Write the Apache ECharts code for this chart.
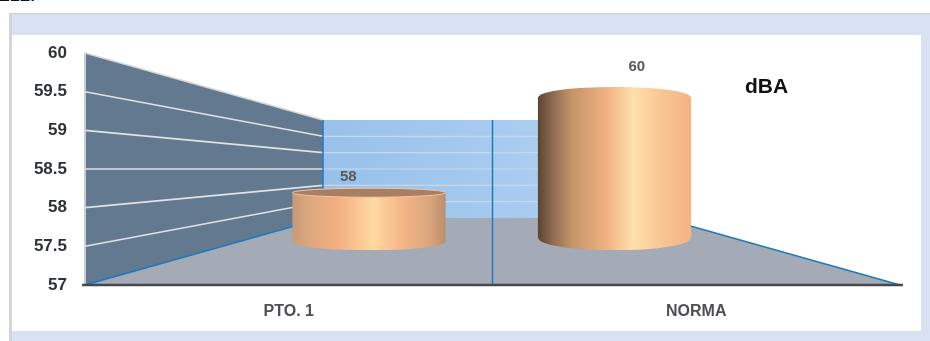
<!DOCTYPE html>
<html><head><meta charset="utf-8">
<style>html,body{margin:0;padding:0;background:#fff}#c{width:930px;height:341px;filter:blur(0.5px)}</style>
<script src="https://cdn.jsdelivr.net/npm/echarts@6/dist/echarts.min.js"></script>
</head><body><div id="c"></div>
<script>
const categories = ['PTO. 1', 'NORMA'];
const dba = [58, 60];
const axisMin = 57, axisMax = 60, axisStep = 0.5;
const gridTicks = [57.5, 58, 58.5, 59, 59.5, 60];

// Perspective of the box: share of the front plane kept by the back wall
const BACK_X = 0.416, BACK_Y = 0.4224, BACK_LIFT = 67, BAR_T = 0.67, LABEL_T = 0.5, BAR_HALF = 0.188;
const shapes = [
  {topRy: 4.5, baseRy: 9, baseDy: 1, dx: 0.5,
   stops: [[0,'#c49a78'],[0.1,'#dca77e'],[0.3,'#f3b081'],[0.53,'#ffd8a2'],[0.72,'#f4b686'],[0.9,'#d9a47c'],[1,'#b98e6e']],
   cap: '#a87f62', rim: '#f2c6a0'},
  {topRy: 11, baseRy: 13, baseDy: -3, dx: -2,
   stops: [[0,'#5c4432'],[0.1,'#8f6c50'],[0.22,'#c49469'],[0.45,'#f0b182'],[0.62,'#ffe0ad'],[0.8,'#f8c795'],[1,'#f4b384']],
   cap: null, rim: null}
];

const chart = echarts.init(document.getElementById('c'), null, {renderer: 'canvas'});
let frontL, frontR, top60, bot57;

function frame(api) {
  const c0 = api.coord([0, axisMin]), c1 = api.coord([1, axisMax]);
  const band = c1[0] - c0[0];
  frontL = c0[0] - band / 2; frontR = c1[0] + band / 2;
  bot57 = c0[1]; top60 = c1[1];
  return band;
}
// front-plane point -> point at depth t (0 front, 1 back wall)
function deep(p, t) {
  const mid = (frontL + frontR) / 2;
  const bx = mid + (p[0] - mid) * BACK_X;
  const by = bot57 - (bot57 - p[1]) * BACK_Y - BACK_LIFT;
  return [p[0] + (bx - p[0]) * t, p[1] + (by - p[1]) * t];
}
function line(a, b, color, width) {
  return {type: 'line', shape: {x1: a[0], y1: a[1], x2: b[0], y2: b[1]},
          style: {stroke: color, lineWidth: width}};
}
function box(params, api) {
  frame(api);
  const fl = [frontL, bot57], fr = [frontR, bot57], tl = [frontL, top60];
  const bl = deep(fl, 1), br = deep(fr, 1), btl = deep(tl, 1), btr = deep([frontR, top60], 1);
  const midF = [(frontL + frontR) / 2, bot57], midT = deep([midF[0], top60], 1);
  const kids = [
    {type: 'polygon', shape: {points: [bl, br, btr, btl]}, style: {fill: new echarts.graphic.LinearGradient(0,1,1,0,[{offset:0,color:'#97bfe8'},{offset:1,color:'#b4d6f4'}])}},
    {type: 'polygon', shape: {points: [fl, fr, br, bl]}, style: {fill: '#a4abb7'}},
    {type: 'polygon', shape: {points: [fl, tl, btl, bl]}, style: {fill: '#63798f'}},
    line(tl, btl, '#d8d8d8', 1.5), line(tl, fl, '#c8cdd2', 2)
  ];
  gridTicks.forEach(v => {
    if (v === axisMax) return;
    const y = api.coord([0, v])[1], f = [frontL, y], b = deep(f, 1), e = deep([frontR, y], 1);
    kids.push(line(f, b, '#dfe2e4', 1.6), line(b, e, '#c3d9ee', 1.2));
  });
  kids.push(line(fl, bl, '#1f78bd', 1.5), line(bl, btl, '#1f78bd', 1.5),
            line(fr, br, '#1f78bd', 1.5), line(midF, midT, '#1f78bd', 1.5),
            line([frontL - 3, bot57], [frontR + 3, bot57], '#45484d', 2.5));
  return {type: 'group', children: kids};
}
function cylinder(params, api) {
  const band = frame(api);
  const i = api.value(0), v = api.value(1), s = shapes[i];
  const cf = api.coord([i, v]), bf = api.coord([i, axisMin]);
  const top = deep(cf, BAR_T), base = deep(bf, BAR_T);
  const cx = top[0] + s.dx, hx = band * BAR_HALF;
  const L = cx - hx, R = cx + hx;
  const by = base[1] + s.baseDy, ty = top[1];
  const fill = new echarts.graphic.LinearGradient(0,0,1,0, s.stops.map(o => ({offset:o[0], color:o[1]})));
  const up = s.topRy * 1.33, dn = s.baseRy * 1.33;
  const d = `M${L} ${ty} C${L} ${ty-up} ${R} ${ty-up} ${R} ${ty} L${R} ${by} C${R} ${by+dn} ${L} ${by+dn} ${L} ${by} Z`;
  const kids = [{type: 'path', shape: {pathData: d, x: L, y: ty - s.topRy, width: R - L, height: by + s.baseRy - ty + s.topRy, layout: 'cover'}, style: {fill}}];
  if (s.cap) kids.push({type: 'ellipse', shape: {cx, cy: ty, rx: hx, ry: s.topRy}, style: {fill: s.cap, stroke: s.rim, lineWidth: 1}});
  const lab = deep(cf, LABEL_T);
  kids.push({type: 'text', style: {x: lab[0], y: lab[1] - 19.5, text: String(v), align: 'center', verticalAlign: 'middle',
    fill: '#58595b', font: 'bold 15px "Liberation Sans"'}});
  return {type: 'group', children: kids};
}

chart.setOption({
  animation: false,
  backgroundColor: '#ffffff',
  graphic: [
    {type: 'rect', z: -10, shape: {x: 11, y: 14, width: 919, height: 327}, style: {fill: '#d9e2f3'}},
    {type: 'rect', z: -9, shape: {x: 9, y: 13, width: 3, height: 328}, style: {fill: '#d2d4d8'}},
    {type: 'rect', z: -9, shape: {x: 9, y: 13, width: 921, height: 1.5}, style: {fill: '#d2d4d8'}},
    {type: 'rect', z: -9, shape: {x: 12, y: 35, width: 909, height: 296}, style: {fill: '#ffffff'}},
    {type: 'text', z: 5, left: 745, top: 77, style: {text: 'dBA', fill: '#111', font: 'bold 21px "Liberation Sans"'}},
    {type: 'text', z: 5, left: -1, top: -11, style: {text: 'ELE:', fill: '#111', font: 'bold 16px "Liberation Sans"'}}
  ],
  grid: {left: 85, right: 30, top: 53, bottom: 56, containLabel: false},
  xAxis: {type: 'category', data: categories, boundaryGap: true,
    axisTick: {show: false}, splitLine: {show: false},
    axisLine: {show: false},
    axisLabel: {color: '#4d4f53', margin: 19, fontFamily: 'Liberation Sans', fontWeight: 'bold', fontSize: 16}},
  yAxis: {type: 'value', min: axisMin, max: axisMax, interval: axisStep,
    axisLine: {show: false}, axisTick: {show: false}, splitLine: {show: false},
    axisLabel: {color: '#2e3236', margin: 18, padding: [4, 0, 0, 0], fontFamily: 'Liberation Sans', fontWeight: 'bold', fontSize: 17,
      formatter: v => String(v)}},
  series: [
    {type: 'custom', z: 1, silent: true, clip: false, renderItem: box, data: [[0, axisMin]], encode: {x: 0, y: 1}},
    {type: 'custom', z: 2, silent: true, clip: false, renderItem: cylinder, data: dba.map((v, i) => [i, v]), encode: {x: 0, y: 1}}
  ]
});
</script></body></html>
